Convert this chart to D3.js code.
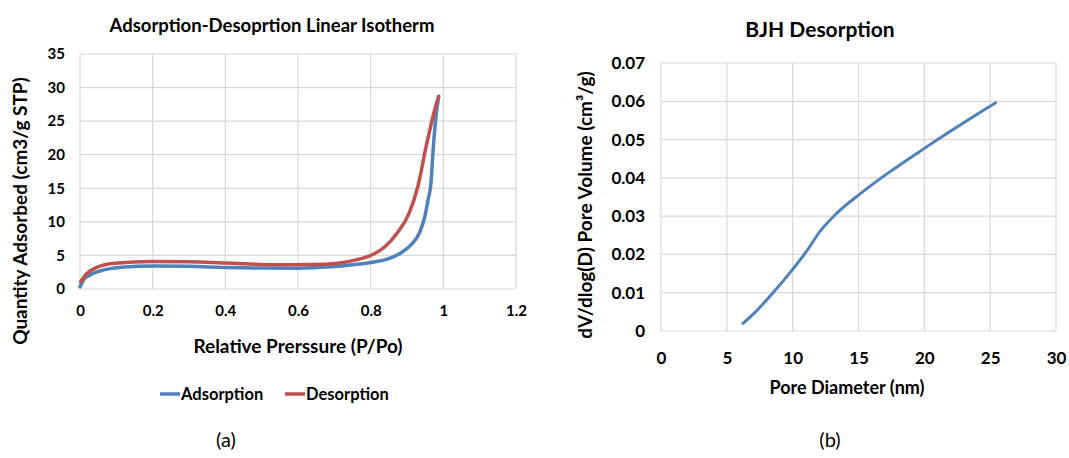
<!DOCTYPE html>
<html><head><meta charset="utf-8">
<script src="https://cdn.jsdelivr.net/npm/d3@7"></script>
<style>
body{margin:0;background:#fff;}
svg{display:block;font-family:Lato, "Open Sans", sans-serif;font-weight:bold;}
</style></head>
<body>
<svg id="c" width="1069" height="458"></svg>
<script>
// ---- Data: chart (a) isotherm ----
const adsX = [0.0, 0.0095, 0.028, 0.066, 0.114, 0.2, 0.30, 0.40, 0.50, 0.60, 0.69, 0.75, 0.80, 0.845, 0.882, 0.911, 0.934, 0.949, 0.958, 0.966, 0.972, 0.979, 0.987];
const adsY = [0.3, 1.35, 2.1, 2.84, 3.24, 3.44, 3.38, 3.22, 3.12, 3.09, 3.3, 3.6, 3.94, 4.44, 5.33, 6.58, 8.33, 10.8, 13.3, 15.8, 20.8, 25.3, 28.6];
const desX = [0.002, 0.019, 0.047, 0.095, 0.2, 0.30, 0.40, 0.54, 0.636, 0.71, 0.76, 0.80, 0.84, 0.873, 0.906, 0.93, 0.953, 0.972, 0.987];
const desY = [1.1, 2.3, 3.24, 3.84, 4.09, 4.06, 3.88, 3.62, 3.64, 3.84, 4.34, 4.99, 6.33, 8.33, 11.3, 15.3, 21.3, 25.8, 28.7];
const xTicksA = [0, 0.2, 0.4, 0.6, 0.8, 1, 1.2];
const yTicksA = [0, 5, 10, 15, 20, 25, 30, 35];
const seriesNamesA = ["Adsorption", "Desorption"];

// ---- Data: chart (b) BJH ----
const bjhX = [6.23, 7.18, 8.46, 10.0, 11.03, 12.05, 13.33, 15.0, 17.18, 20.0, 22.3, 25.4];
const bjhY = [0.0020, 0.0050, 0.0098, 0.0161, 0.0207, 0.0259, 0.0307, 0.0355, 0.0411, 0.0477, 0.0529, 0.0596];
const xTicksB = [0, 5, 10, 15, 20, 25, 30];
const yTicksB = [0, 0.01, 0.02, 0.03, 0.04, 0.05, 0.06, 0.07];

const BLUE = "#4F81BD", RED = "#C0504D", GRID = "#d9d9d9";
const svg = d3.select("#c");

function panel(o) {
  const g = svg.append("g");
  const x = d3.scaleLinear().domain(o.xd).range([o.l, o.r]);
  const y = d3.scaleLinear().domain(o.yd).range([o.b, o.t]);
  g.append("g").selectAll("line").data(o.xt).join("line")
    .attr("x1", d => x(d)).attr("x2", d => x(d)).attr("y1", o.t).attr("y2", o.b)
    .attr("stroke", GRID).attr("stroke-width", 1.2);
  g.append("g").selectAll("line").data(o.yt).join("line")
    .attr("x1", o.l).attr("x2", o.r).attr("y1", d => y(d)).attr("y2", d => y(d))
    .attr("stroke", GRID).attr("stroke-width", 1.2);
  const ax = g.append("g").attr("transform", `translate(0,${o.b})`)
    .call(d3.axisBottom(x).tickValues(o.xt).tickSize(0).tickPadding(o.xpad).tickFormat(o.xf));
  const ay = g.append("g").attr("transform", `translate(${o.l},0)`)
    .call(d3.axisLeft(y).tickValues(o.yt).tickSize(0).tickPadding(o.ypad).tickFormat(o.yf));
  [ax, ay].forEach(a => {
    a.select(".domain").remove();
    a.selectAll("text").attr("font-family", "Lato, sans-serif").attr("font-weight", "bold")
      .attr("font-size", o.tfs).attr("fill", "#000");
  });
  return {g, x, y};
}

// ---- Panel (a) ----
const A = panel({xd:[0,1.2], yd:[0,35], l:80, r:516, t:54, b:289, xt:xTicksA, yt:yTicksA,
  xf: d => String(+d.toFixed(2)), yf: d => String(d), xpad:16, ypad:15, tfs:15});
const lineA = d3.line().x(d => A.x(d[0])).y(d => A.y(d[1])).curve(d3.curveMonotoneX);
A.g.append("path").datum(d3.zip(adsX, adsY)).attr("d", lineA)
  .attr("fill", "none").attr("stroke", BLUE).attr("stroke-width", 3.5).attr("stroke-linecap", "round");
A.g.append("path").datum(d3.zip(desX, desY)).attr("d", lineA)
  .attr("fill", "none").attr("stroke", RED).attr("stroke-width", 3.5).attr("stroke-linecap", "round");

svg.append("text").attr("x", 272).attr("y", 32).attr("text-anchor", "middle")
  .attr("font-size", 18.5).text("Adsorption-Desoprtion Linear Isotherm");
svg.append("text").attr("transform", "translate(27,211) rotate(-90)").attr("text-anchor", "middle")
  .attr("font-size", 19).text("Quantity Adsorbed (cm3/g STP)");
svg.append("text").attr("x", 298).attr("y", 353).attr("text-anchor", "middle")
  .attr("font-size", 19).text("Relative Prerssure (P/Po)");

const legColors = [BLUE, RED];
const legX = [160, 285];
seriesNamesA.forEach((n, i) => {
  svg.append("line").attr("x1", legX[i]).attr("x2", legX[i] + 20).attr("y1", 394).attr("y2", 394)
    .attr("stroke", legColors[i]).attr("stroke-width", 3.5);
  svg.append("text").attr("x", legX[i] + 21).attr("y", 400).attr("font-size", 16.5).text(n);
});
svg.append("text").attr("x", 226).attr("y", 447).attr("text-anchor", "middle")
  .attr("font-weight", "normal").attr("font-size", 20).text("(a)");

// ---- Panel (b) ----
const B = panel({xd:[0,30], yd:[0,0.07], l:661, r:1056, t:63, b:331, xt:xTicksB, yt:yTicksB,
  xf: d => String(d), yf: d => String(+d.toFixed(2)), xpad:21, ypad:16, tfs:17});
const lineB = d3.line().x(d => B.x(d[0])).y(d => B.y(d[1])).curve(d3.curveMonotoneX);
B.g.append("path").datum(d3.zip(bjhX, bjhY)).attr("d", lineB)
  .attr("fill", "none").attr("stroke", BLUE).attr("stroke-width", 3).attr("stroke-linecap", "round");

svg.append("text").attr("x", 820).attr("y", 37).attr("text-anchor", "middle")
  .attr("font-size", 21).text("BJH Desorption");
svg.append("text").attr("transform", "translate(592,205) rotate(-90)").attr("text-anchor", "middle")
  .attr("font-size", 19).text("dV/dlog(D) Pore Volume (cm³/g)");
svg.append("text").attr("x", 847).attr("y", 394).attr("text-anchor", "middle")
  .attr("font-size", 18).text("Pore Diameter (nm)");
svg.append("text").attr("x", 830).attr("y", 447).attr("text-anchor", "middle")
  .attr("font-weight", "normal").attr("font-size", 20).text("(b)");
</script>
</body></html>
